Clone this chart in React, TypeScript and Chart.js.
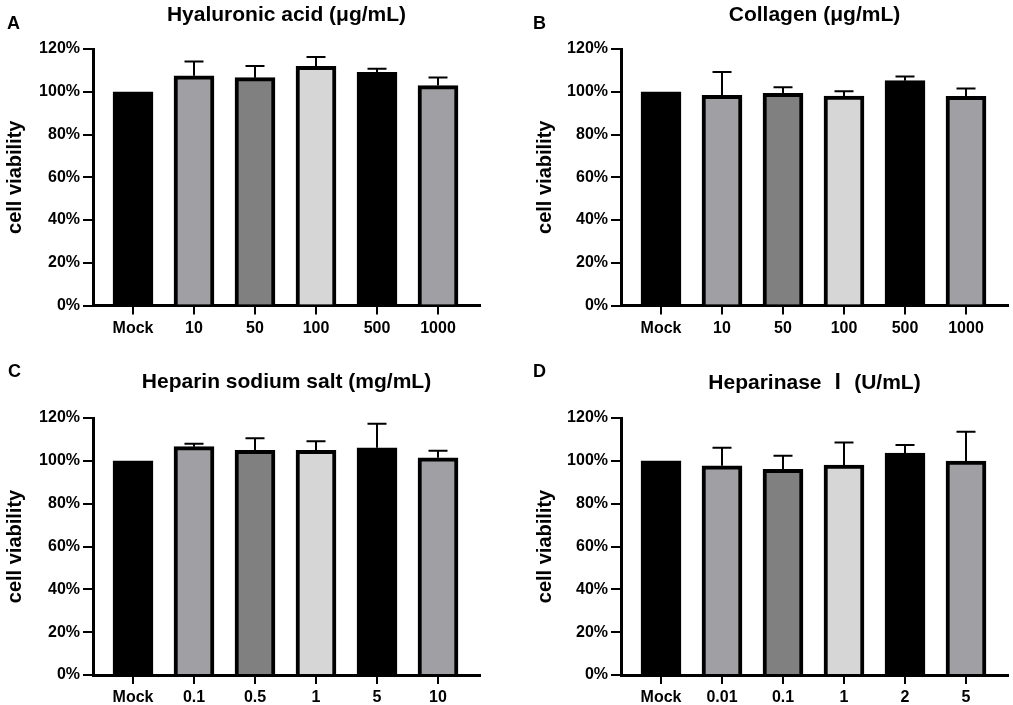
import React, { useEffect, useRef } from 'react';
import { Chart, registerables } from 'chart.js';

Chart.register(...registerables);

const FONT = "'Liberation Sans', Arial, 'Noto Sans CJK SC', sans-serif";

// panel A - hyaluronic acid
const haDoses = ['Mock', '10', '50', '100', '500', '1000'];
const haMeans = [100, 107.5, 106.6, 111.9, 109.1, 102.9];
const haSD = [0, 6.7, 5.4, 4.4, 1.7, 3.8];

// panel B - collagen
const colDoses = ['Mock', '10', '50', '100', '500', '1000'];
const colMeans = [100, 98.3, 99.3, 98.0, 105.2, 97.9];
const colSD = [0, 10.9, 2.8, 2.2, 1.9, 3.6];

// panel C - heparin sodium salt
const hepDoses = ['Mock', '0.1', '0.5', '1', '5', '10'];
const hepMeans = [100, 106.6, 104.9, 104.9, 106.1, 101.4];
const hepSD = [0, 1.4, 5.6, 4.2, 11.2, 3.3];

// panel D - heparinase I
const hepaseDoses = ['Mock', '0.01', '0.1', '1', '2', '5'];
const hepaseMeans = [100, 97.7, 96.0, 98.0, 103.6, 99.9];
const hepaseSD = [0, 8.4, 6.4, 10.6, 3.8, 13.7];

const yTicks = [0, 20, 40, 60, 80, 100, 120];
const barColors = ['#000000', '#a0a0a4', '#808080', '#d6d6d6', '#000000', '#a0a0a4'];

type Box = {
  x: number; y: number; w: number; h: number;
  left: number; right: number; top: number; bottom: number;
  titleY: number; letterX: number; letterY: number; yTitlePad: number;
};

type PanelProps = {
  letter: string;
  title: string;
  labels: string[];
  means: number[];
  sds: number[];
  box: Box;
};

const Panel = ({ letter, title, labels, means, sds, box }: PanelProps) => {
  const canvasRef = useRef<HTMLCanvasElement>(null);

  useEffect(() => {
    const ctx = canvasRef.current!.getContext('2d')!;

    // SD whiskers, upward only, like the Prism export
    const errorBars = {
      id: 'errorBars',
      afterDatasetsDraw(chart: any) {
        const c = chart.ctx;
        const xs = chart.scales.x;
        const ys = chart.scales.y;
        c.save();
        c.strokeStyle = '#000';
        c.lineWidth = 2;
        means.forEach((m, i) => {
          if (!sds[i]) return;
          const px = xs.getPixelForValue(i);
          const y0 = ys.getPixelForValue(m);
          const y1 = ys.getPixelForValue(m + sds[i]);
          c.beginPath();
          c.moveTo(px, y0);
          c.lineTo(px, y1);
          c.moveTo(px - 9.5, y1);
          c.lineTo(px + 9.5, y1);
          c.stroke();
        });
        c.restore();
      },
    };

    const panelText = {
      id: 'panelText',
      afterDraw(chart: any) {
        const c = chart.ctx;
        const area = chart.chartArea;
        c.save();
        c.fillStyle = '#000';
        c.textBaseline = 'alphabetic';
        c.font = `bold 18px ${FONT}`;
        c.textAlign = 'left';
        c.fillText(letter, box.letterX, box.letterY);
        c.font = `bold 21px ${FONT}`;
        c.textAlign = 'center';
        c.fillText(title, (area.left + area.right) / 2, box.titleY);
        c.restore();
      },
    };

    const chart = new Chart(ctx, {
      type: 'bar',
      data: {
        datasets: [
          {
            data: means.map((m, i) => ({ x: i, y: m })),
            backgroundColor: barColors,
            borderColor: '#000',
            borderWidth: 4,
            borderSkipped: 'start',
            barThickness: 40,
          },
        ],
      },
      options: {
        responsive: false,
        animation: false,
        font: { family: FONT },
        layout: {
          padding: { top: box.top, right: box.w - box.right, bottom: 0, left: 0 },
        },
        scales: {
          x: {
            type: 'linear',
            offset: false,
            min: -40 / 61,
            max: 5 + 42 / 61,
            afterBuildTicks: (axis: any) => {
              axis.ticks = labels.map((_, i) => ({ value: i }));
            },
            afterFit: (s: any) => {
              s.height = box.h - box.bottom;
            },
            ticks: {
              callback: (v: any) => labels[Math.round(Number(v))],
              font: { family: FONT, size: 16, weight: 'bold' },
              color: '#000',
              padding: 4,
              maxRotation: 0,
              autoSkip: false,
            },
            grid: { offset: false, drawOnChartArea: false, tickLength: 9, lineWidth: 2, color: '#000' },
            border: { color: '#000', width: 3 },
          },
          y: {
            min: 0,
            max: 120,
            afterBuildTicks: (axis: any) => {
              axis.ticks = yTicks.map((v) => ({ value: v }));
            },
            afterFit: (s: any) => {
              s.width = box.left;
            },
            ticks: {
              callback: (v: any) => `${v}%`,
              font: { family: FONT, size: 16, weight: 'bold' },
              color: '#000',
              padding: 3,
            },
            grid: { drawOnChartArea: false, tickLength: 10, lineWidth: 2, color: '#000' },
            border: { color: '#000', width: 3 },
            title: {
              display: true,
              text: 'cell viability',
              color: '#000',
              font: { family: FONT, size: 20, weight: 'bold' },
              padding: { top: box.yTitlePad, bottom: 0 },
            },
          },
        },
        plugins: {
          legend: { display: false },
          tooltip: { enabled: false },
          title: { display: false },
        },
      } as any,
      plugins: [errorBars, panelText],
    });

    return () => {
      chart.destroy();
    };
  }, []);

  return (
    <canvas
      ref={canvasRef}
      width={box.w}
      height={box.h}
      style={{ position: 'absolute', left: box.x, top: box.y, width: box.w, height: box.h }}
    />
  );
};

const App = () => {
  return (
    <div style={{ position: 'absolute', left: 0, top: 0, width: 1013, height: 705, background: '#fff' }}>
      <Panel
        letter="A"
        title="Hyaluronic acid (μg/mL)"
        labels={haDoses}
        means={haMeans}
        sds={haSD}
        box={{ x: 0, y: 0, w: 506, h: 352, left: 93, right: 480, top: 49, bottom: 305.5, titleY: 21, letterX: 7, letterY: 29, yTitlePad: 3.5 }}
      />
      <Panel
        letter="B"
        title="Collagen (μg/mL)"
        labels={colDoses}
        means={colMeans}
        sds={colSD}
        box={{ x: 506, y: 0, w: 507, h: 352, left: 115, right: 502, top: 49, bottom: 305.5, titleY: 21, letterX: 27, letterY: 29, yTitlePad: 27 }}
      />
      <Panel
        letter="C"
        title="Heparin sodium salt (mg/mL)"
        labels={hepDoses}
        means={hepMeans}
        sds={hepSD}
        box={{ x: 0, y: 352, w: 506, h: 353, left: 93, right: 480, top: 66, bottom: 323, titleY: 36, letterX: 8, letterY: 25, yTitlePad: 3.5 }}
      />
      <Panel
        letter="D"
        title="Heparinase Ⅰ (U/mL)"
        labels={hepaseDoses}
        means={hepaseMeans}
        sds={hepaseSD}
        box={{ x: 506, y: 352, w: 507, h: 353, left: 115, right: 502, top: 66, bottom: 323, titleY: 37, letterX: 27, letterY: 25, yTitlePad: 27 }}
      />
    </div>
  );
};

export default App;
